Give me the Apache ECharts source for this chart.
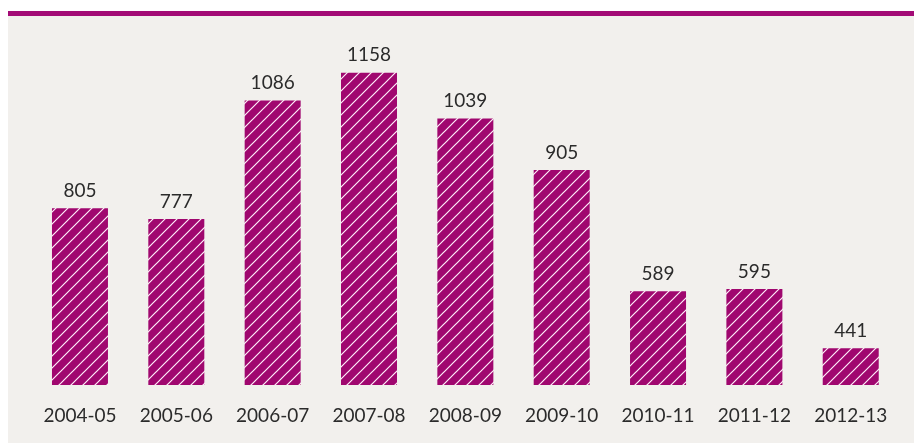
<!DOCTYPE html>
<html>
<head>
<meta charset="utf-8">
<script src="https://cdn.jsdelivr.net/npm/echarts@6/dist/echarts.min.js"></script>
<style>
html,body{margin:0;padding:0;background:#ffffff;}
#wrap{position:absolute;left:8px;top:11px;width:906px;height:432px;background:#f2f0ed;}
#bar{position:absolute;left:0;top:0;width:906px;height:5px;background:#a30b76;}
#chart{position:absolute;left:0;top:0;width:914px;height:443px;}
</style>
</head>
<body>
<div id="wrap"><div id="bar"></div></div>
<div id="chart"></div>
<script>
const categories = ['2004-05','2005-06','2006-07','2007-08','2008-09','2009-10','2010-11','2011-12','2012-13'];
const values = [805, 777, 1086, 1158, 1039, 905, 589, 595, 441];

function makePattern(){
  const s = 12;
  const c = document.createElement('canvas');
  c.width = s; c.height = s;
  const g = c.getContext('2d');
  g.fillStyle = '#a0076f';
  g.fillRect(0,0,s,s);
  g.strokeStyle = 'rgba(255,238,250,1)';
  g.lineWidth = 1.2;
  g.beginPath();
  g.moveTo(-1,s+1); g.lineTo(s+1,-1);
  g.moveTo(-s/2,s/2); g.lineTo(s/2,-s/2);
  g.moveTo(s/2,s*1.5); g.lineTo(s*1.5,s/2);
  g.stroke();
  return c;
}

const chart = echarts.init(document.getElementById('chart'), null, {renderer:'canvas'});
chart.setOption({
  animation:false,
  backgroundColor:'transparent',
  grid:{left:31.8, right:15.1, top:37.4, bottom:58, containLabel:false},
  xAxis:{
    type:'category', data:categories,
    axisLine:{show:false}, axisTick:{show:false},
    axisLabel:{color:'#2b2b2b', fontSize:19, fontFamily:'Lato', margin:21}
  },
  yAxis:{
    type:'value', min:345, max:1250, show:false,
    splitLine:{show:false}
  },
  series:[{
    type:'bar', data:values, barWidth:56,
    itemStyle:{color:{image:makePattern(), repeat:'repeat'}},
    label:{show:true, position:'top', distance:8, color:'#2b2b2b', fontSize:19, fontFamily:'Lato'}
  }]
});
</script>
</body>
</html>
